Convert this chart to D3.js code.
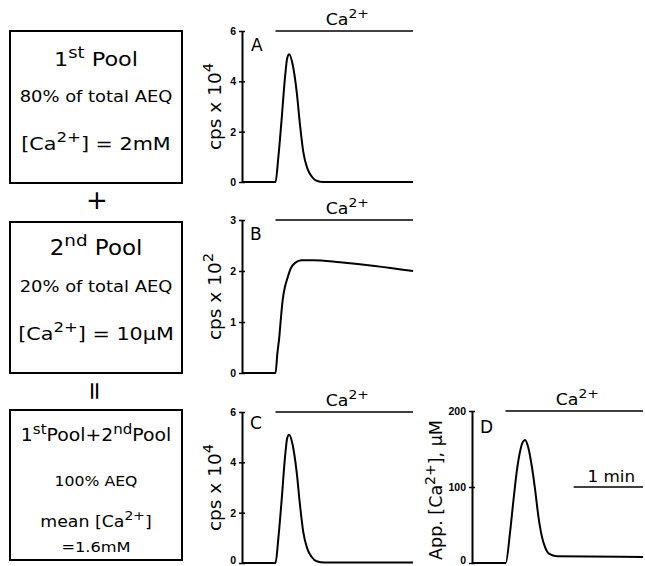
<!DOCTYPE html>
<html>
<head>
<meta charset="utf-8">
<script src="https://cdn.jsdelivr.net/npm/d3@7"></script>
<style>
  html, body { margin: 0; padding: 0; background: #fff; }
  svg { display: block; }
  text { font-family: 'DejaVu Sans', sans-serif; fill: #000; white-space: pre; }
  .tick text { font-family: 'Liberation Sans', Arial, sans-serif; font-weight: bold; font-size: 10.5px; }
</style>
</head>
<body>
<svg id="fig" width="645" height="566"></svg>
<script>
'use strict';

// Time in seconds from start of trace; Ca2+ is added at caOn and kept until tEnd.
var caOn = 29;
var tEnd = 148;
var scaleBarSec = 60;

// A: 1st pool, cps x 10^4
var timeA = [0, 29, 31.4, 34.4, 37.2, 39.2, 40.9, 43.9, 47.3, 50.2, 53.0, 56.5, 60.3, 64.6, 70.4, 148];
var cpsA  = [0, 0, 0.96, 2.55, 4.15, 4.94, 5.08, 4.66, 3.6, 2.27, 1.21, 0.55, 0.22, 0.05, 0, 0];

// B: 2nd pool, cps x 10^2
var timeB = [0, 29, 30.6, 32.3, 33.5, 35.2, 37.2, 39.2, 42.2, 45.9, 51.6, 61.7, 84.8, 115, 148];
var cpsB  = [0, 0, 0.38, 0.71, 1.03, 1.43, 1.69, 1.85, 2.05, 2.16, 2.21, 2.21, 2.17, 2.1, 2.0];

// C: both pools, cps x 10^4
var timeC = [0, 29, 31.4, 34.4, 37.2, 39.2, 40.8, 43.9, 47.3, 50.2, 53.0, 56.5, 60.3, 64.6, 71.5, 148];
var cpsC  = [0, 0, 0.95, 2.55, 4.2, 4.98, 5.1, 4.68, 3.62, 2.3, 1.24, 0.57, 0.24, 0.07, 0.02, 0.02];

// D: apparent [Ca2+], uM
var timeD = [0, 29.2, 32.9, 35.7, 38.7, 41.5, 43.9, 45.9, 48.7, 51.7, 54.5, 57.4, 60.3, 63.2, 66.9, 73.3, 148];
var caD   = [0, 0, 40, 80, 120, 146, 159, 162, 152, 128, 98, 62, 36, 21, 12, 9, 8];

var ticksA = [0, 2, 4, 6];
var ticksB = [0, 1, 2, 3];
var ticksC = [0, 2, 4, 6];
var ticksD = [0, 100, 200];

var svg = d3.select('#fig');
var stretch = 1.12; // the original lettering is wider than any installed font

// parts: plain strings, or strings starting with '^' for superscripts
function richText(parent, x, y, parts, size, opts) {
  opts = opts || {};
  var t = parent.append('text')
    .attr('font-size', size)
    .attr('text-anchor', opts.anchor || 'middle');
  var tr = 'translate(' + x + ',' + y + ')';
  if (opts.rotate) tr += ' rotate(' + opts.rotate + ')';
  if (opts.stretch) tr += ' scale(' + opts.stretch + ',1)';
  t.attr('transform', tr);
  var up = false;
  parts.forEach(function (p) {
    var sup = p.charAt(0) === '^';
    var span = t.append('tspan').text(sup ? p.slice(1) : p);
    if (sup) span.attr('font-size', size * 0.8);
    if (sup !== up) span.attr('dy', (sup ? -1 : 1) * size * 0.42);
    up = sup;
  });
  return t;
}

// ---- left column: the pool boxes ----
var boxes = [
  {y: 31, h: 152, lines: [
    {parts: ['1', '^st', ' Pool'], size: 20, y: 66},
    {parts: ['80% of total AEQ'], size: 16, y: 102},
    {parts: ['[Ca', '^2+', '] = 2mM'], size: 18.5, y: 150}
  ]},
  {y: 222, h: 151, lines: [
    {parts: ['2', '^nd', ' Pool'], size: 20.5, y: 255},
    {parts: ['20% of total AEQ'], size: 16, y: 292},
    {parts: ['[Ca', '^2+', '] = 10\u00b5M'], size: 18.5, y: 340}
  ]},
  {y: 410, h: 150, lines: [
    {parts: ['1', '^st', 'Pool+2', '^nd', 'Pool'], size: 16.8, y: 441},
    {parts: ['100% AEQ'], size: 14, y: 486},
    {parts: ['mean [Ca', '^2+', ']'], size: 15.5, y: 527},
    {parts: ['=1.6mM'], size: 14.5, y: 552}
  ]}
];

var boxX = 10, boxW = 172, boxCx = boxX + boxW / 2;
var left = svg.append('g').attr('class', 'pools');

boxes.forEach(function (b) {
  left.append('rect')
    .attr('x', boxX).attr('y', b.y).attr('width', boxW).attr('height', b.h)
    .attr('fill', 'none').attr('stroke', '#000').attr('stroke-width', 2);
  b.lines.forEach(function (l) {
    richText(left, boxCx, l.y, l.parts, l.size, {stretch: stretch});
  });
});

// plus between pools, and "equals" turned on its side
left.append('text').attr('x', boxCx + 1).attr('y', 209)
  .attr('font-size', 26).attr('text-anchor', 'middle').text('+');
left.append('text')
  .attr('transform', 'translate(' + (boxCx) + ',391) rotate(90)')
  .attr('y', 25 * 0.36).attr('font-size', 25).attr('text-anchor', 'middle').text('=');

// ---- traces ----
var panels = [
  {letter: 'A', x0: 242, x1: 413, top: 31, bottom: 182, times: timeA, values: cpsA, max: 6, ticks: ticksA,
    ylabel: ['cps x 10', '^4'], ylabelX: 221, letterPos: [251, 51]},
  {letter: 'B', x0: 242, x1: 413, top: 220, bottom: 373, times: timeB, values: cpsB, max: 3, ticks: ticksB,
    ylabel: ['cps x 10', '^2'], ylabelX: 221, letterPos: [250, 240]},
  {letter: 'C', x0: 242, x1: 413, top: 412, bottom: 563, times: timeC, values: cpsC, max: 6, ticks: ticksC,
    ylabel: ['cps x 10', '^4'], ylabelX: 221, letterPos: [250, 429]},
  {letter: 'D', x0: 472, x1: 643, top: 411, bottom: 563, times: timeD, values: caD, max: 200, ticks: ticksD,
    ylabel: ['App. [Ca', '^2+', '], \u00b5M'], ylabelX: 442, ylabelShift: 3, letterPos: [480, 433], scaleBar: true}
];

panels.forEach(function (p) {
  var g = svg.append('g').attr('class', 'panel-' + p.letter);
  var x = d3.scaleLinear().domain([0, tEnd]).range([p.x0, p.x1]);
  var y = d3.scaleLinear().domain([0, p.max]).range([p.bottom, p.top]);

  var axis = g.append('g')
    .attr('transform', 'translate(' + p.x0 + ',0)')
    .call(d3.axisLeft(y).tickValues(p.ticks).tickFormat(d3.format('d'))
      .tickSizeInner(3).tickSizeOuter(0).tickPadding(3));
  axis.select('.domain').attr('stroke-width', 2);
  axis.selectAll('.tick line').attr('x1', 3).attr('stroke-width', 1.5); // ticks cross the axis
  // bottom panels sit on the page edge: lift their zero label so it isn't clipped
  if (p.bottom > 560) {
    axis.selectAll('.tick text').filter(function (d) { return d === 0; }).attr('dy', '0.05em');
  }

  var pts = p.times.map(function (t, i) { return [t, p.values[i]]; });
  g.append('path')
    .attr('d', d3.line()
      .x(function (d) { return x(d[0]); })
      .y(function (d) { return y(d[1]); })
      .curve(d3.curveMonotoneX)(pts))
    .attr('fill', 'none').attr('stroke', '#000').attr('stroke-width', 2)
    .attr('stroke-linejoin', 'round');

  // Ca2+ addition bar
  g.append('line')
    .attr('x1', x(caOn)).attr('x2', x(tEnd)).attr('y1', y(p.max)).attr('y2', y(p.max))
    .attr('stroke', '#000').attr('stroke-width', 1.6);
  richText(g, (x(caOn) + x(tEnd)) / 2 + 3, y(p.max) - 6.5, ['Ca', '^2+'], 15.5, {stretch: stretch});

  g.append('text').attr('x', p.letterPos[0]).attr('y', p.letterPos[1])
    .attr('font-size', 17).text(p.letter);

  richText(g, p.ylabelX, (p.top + p.bottom) / 2 + (p.ylabelShift || 0), p.ylabel,
    p.letter === 'D' ? 17.5 : 18.5, {rotate: -90});

  if (p.scaleBar) {
    var yb = y(100);
    g.append('line')
      .attr('x1', x(tEnd - scaleBarSec)).attr('x2', x(tEnd)).attr('y1', yb).attr('y2', yb)
      .attr('stroke', '#000').attr('stroke-width', 1.6);
    richText(g, (x(tEnd - scaleBarSec) + x(tEnd)) / 2 + 3, yb - 5, ['1 min'], 15, {stretch: stretch});
  }
});
</script>
</body>
</html>
